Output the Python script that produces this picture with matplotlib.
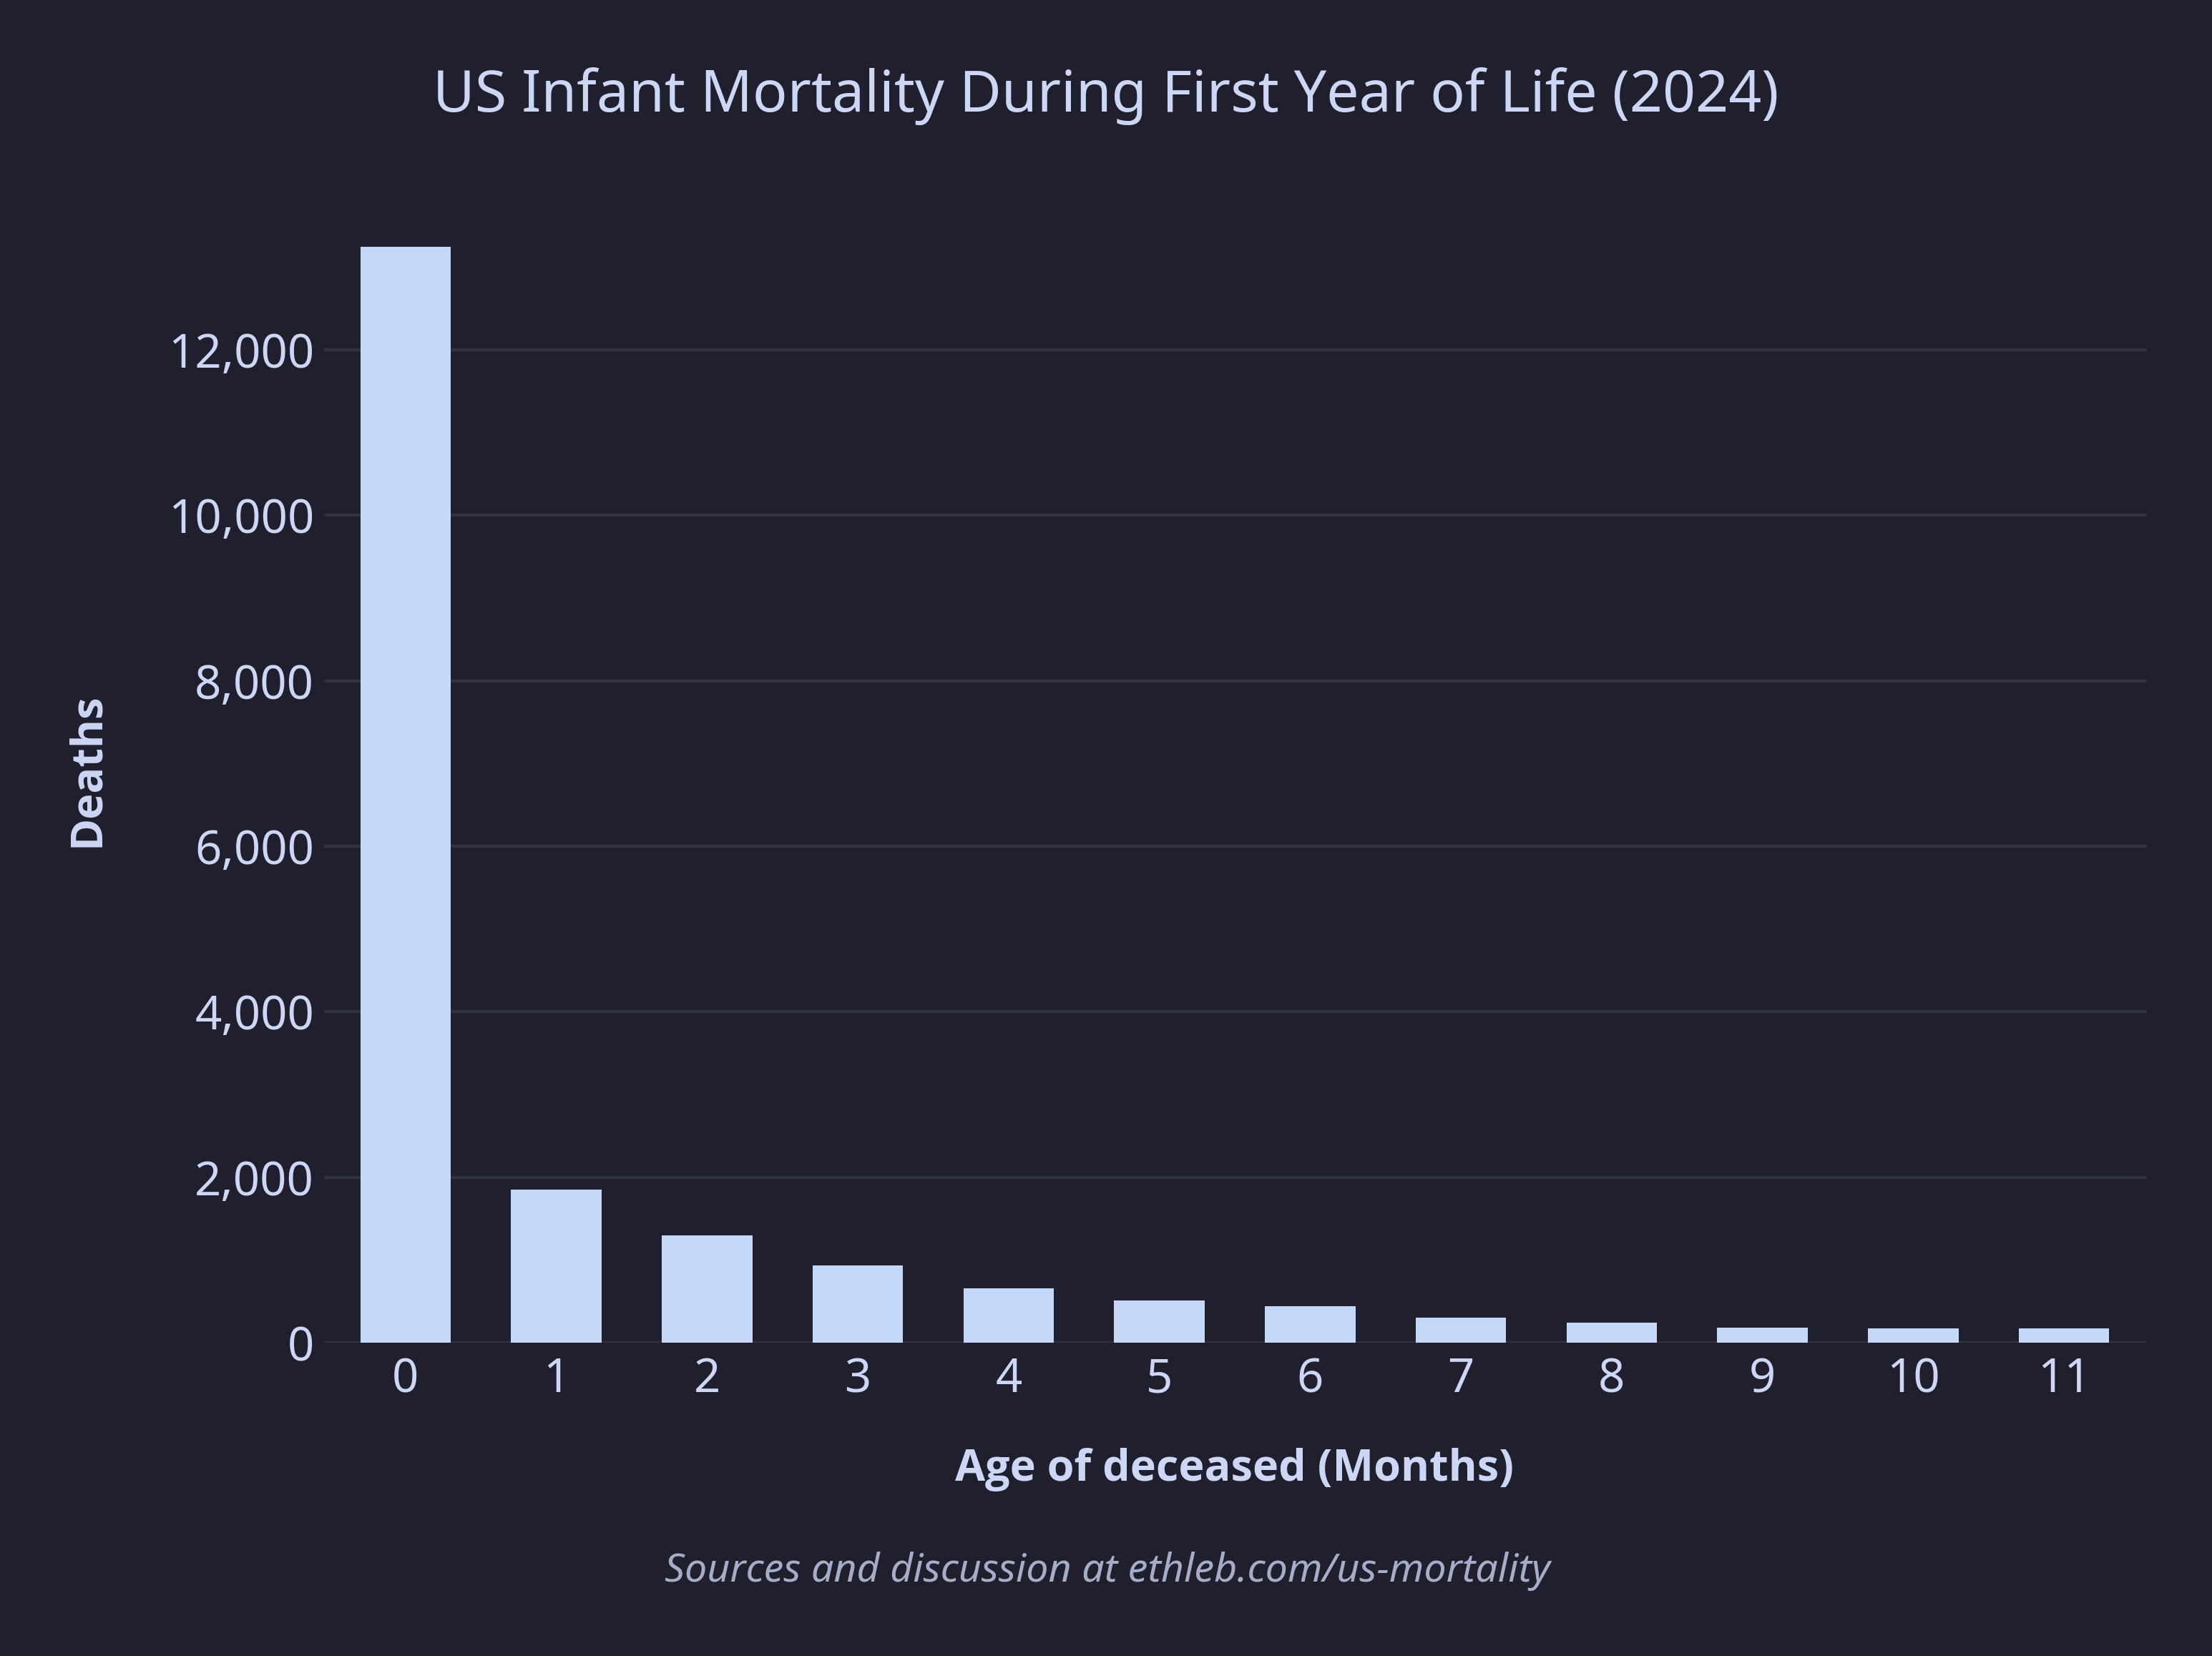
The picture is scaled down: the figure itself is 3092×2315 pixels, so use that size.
import matplotlib
matplotlib.use("Agg")
import matplotlib.pyplot as plt
from matplotlib.ticker import FuncFormatter
import numpy as np

# deaths by age in months
months = [0, 1, 2, 3, 4, 5, 6, 7, 8, 9, 10, 11]
deaths = [13240, 1846, 1299, 935, 657, 509, 440, 301, 240, 180, 171, 171]

title = "US Infant Mortality During First Year of Life (2024)"
xlabel = "Age of deceased (Months)"
ylabel = "Deaths"
footnote = "Sources and discussion at ethleb.com/us-mortality"

bg = "#1f1f2e"
bar_color = "#c6d8f7"
text_color = "#cdd6f4"
sub_color = "#a6adc8"
grid_color = "#2f3040"

plt.rcParams['font.family'] = ['Noto Sans', 'DejaVu Sans']

fig = plt.figure(figsize=(15.46, 11.575), dpi=200, facecolor=bg)
ax = fig.add_axes([0.1465, 0.1892, 0.8241, 0.6946])
ax.set_facecolor(bg)

ax.bar(months, deaths, width=0.6, color=bar_color, zorder=3)

ax.set_xlim(-0.54, 11.55)
ax.set_ylim(0, 13900)
ax.set_yticks(np.arange(0, 13000, 2000))
ax.yaxis.set_major_formatter(FuncFormatter(lambda v, p: f"{int(v):,}"))
ax.set_xticks(months)
ax.set_xticklabels([str(m) for m in months])

ax.grid(axis='y', color=grid_color, linewidth=1.6, zorder=0)
ax.grid(axis='x', visible=False)
for s in ax.spines.values():
    s.set_visible(False)
ax.tick_params(axis='both', length=0, labelsize=23.5, labelcolor=text_color)
ax.tick_params(axis='y', pad=5)
ax.tick_params(axis='x', pad=7)

bold_font = ['Open Sans', 'DejaVu Sans']
fig.text(0.5, 0.942, title, ha='center', va='center', fontsize=29, color=text_color)
fig.text(0.558, 0.1125, xlabel, ha='center', va='center', fontsize=22,
         fontweight='bold', family=bold_font, color=text_color)
fig.text(0.0395, 0.535, ylabel, ha='center', va='center', rotation=90,
         fontsize=22, fontweight='bold', family=bold_font, color=text_color)
fig.text(0.5007, 0.051, footnote, ha='center', va='center', fontsize=20,
         style='italic', color=sub_color)

fig.savefig("out.png", dpi=200, facecolor=bg)
